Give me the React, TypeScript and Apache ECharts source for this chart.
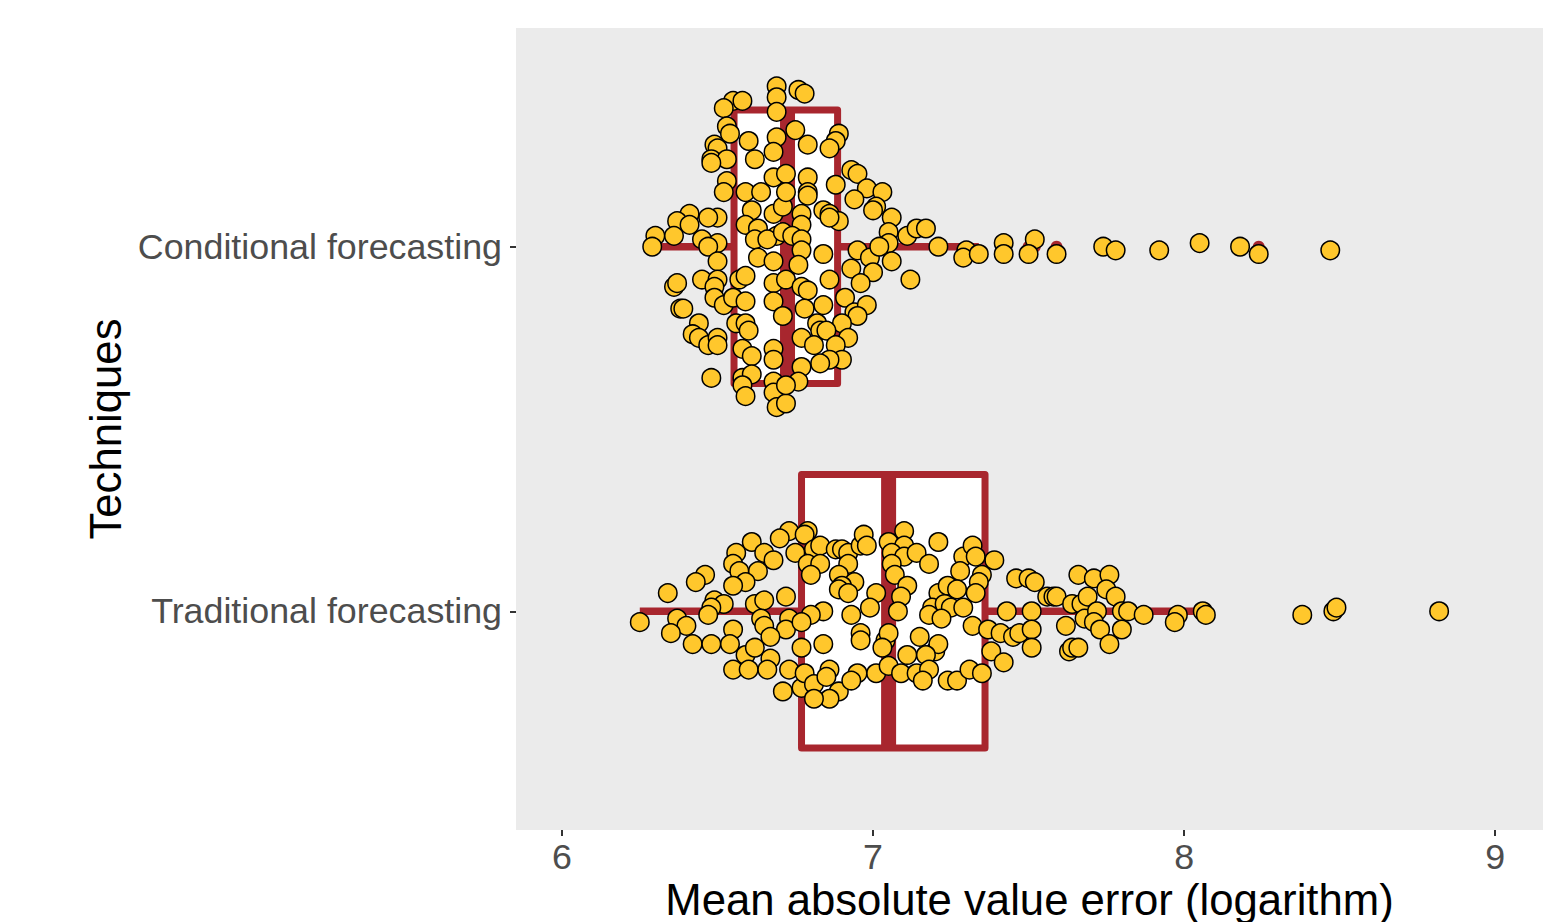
import React, { useEffect, useRef } from "react";
import * as echarts from "echarts";

const categories = ["Traditional forecasting", "Conditional forecasting"];
const xTicks = [6, 7, 8, 9];
const yTicks = [1, 2];
const xTitle = "Mean absolute value error (logarithm)";
const yTitle = "Techniques";

// [lower whisker, Q1, median, Q3, upper whisker]
const traditionalBox = [6.25, 6.77, 7.05, 7.36, 8.07];
const conditionalBox = [6.3, 6.553, 6.725, 6.886, 7.34];

// [value, vertical jitter from category centre]
const conditionalPoints = [
  [6.69, 0.44], [6.69, 0.41], [6.55, 0.4], [6.58, 0.4], [6.52, 0.38], [6.69, 0.37], [6.53, 0.33], [6.54, 0.31],
  [6.6, 0.29], [6.69, 0.3], [6.68, 0.26], [6.49, 0.28], [6.5, 0.27], [6.48, 0.24], [6.53, 0.24], [6.48, 0.23],
  [6.62, 0.24], [6.53, 0.18], [6.52, 0.15], [6.68, 0.19], [6.72, 0.2], [6.59, 0.15], [6.64, 0.15], [6.61, 0.1],
  [6.68, 0.09], [6.71, 0.11], [6.72, 0.15], [6.41, 0.09], [6.37, 0.07], [6.5, 0.08], [6.47, 0.08], [6.41, 0.06],
  [6.59, 0.06], [6.3, 0.03], [6.36, 0.03], [6.63, 0.05], [6.69, 0.03], [6.29, 0.0], [6.45, 0.02], [6.5, 0.01],
  [6.47, 0.0], [6.62, 0.02], [6.66, 0.02], [6.71, 0.04], [6.5, -0.04], [6.45, -0.09], [6.5, -0.09], [6.36, -0.11],
  [6.37, -0.1], [6.57, -0.09], [6.59, -0.08], [6.63, -0.03], [6.68, -0.04], [6.68, -0.1], [6.72, -0.09], [6.49, -0.11],
  [6.49, -0.14], [6.52, -0.16], [6.55, -0.14], [6.59, -0.15], [6.38, -0.17], [6.39, -0.17], [6.68, -0.15], [6.71, -0.19],
  [6.44, -0.21], [6.42, -0.24], [6.44, -0.25], [6.47, -0.27], [6.5, -0.25], [6.5, -0.27], [6.56, -0.21], [6.59, -0.21],
  [6.6, -0.23], [6.58, -0.28], [6.61, -0.3], [6.68, -0.28], [6.68, -0.31], [6.48, -0.36], [6.58, -0.36], [6.61, -0.35],
  [6.58, -0.38], [6.59, -0.41], [6.68, -0.37], [6.68, -0.4], [6.69, -0.44], [6.72, -0.43], [6.76, 0.43], [6.78, 0.42],
  [6.75, 0.32], [6.79, 0.28], [6.89, 0.31], [6.88, 0.29], [6.86, 0.27], [6.79, 0.19], [6.93, 0.21], [6.95, 0.2],
  [6.88, 0.17], [6.98, 0.16], [7.03, 0.15], [6.94, 0.13], [7.01, 0.11], [7.0, 0.1], [7.06, 0.08], [6.79, 0.15],
  [6.79, 0.14], [6.77, 0.09], [6.84, 0.1], [6.86, 0.09], [6.89, 0.07], [6.86, 0.08], [6.77, 0.06], [6.74, 0.03],
  [6.77, 0.02], [7.05, 0.04], [7.11, 0.03], [7.14, 0.05], [7.17, 0.05], [6.95, -0.01], [7.05, 0.01], [7.21, 0.0],
  [6.84, -0.02], [6.77, -0.01], [6.76, -0.05], [6.99, -0.03], [7.02, 0.0], [7.06, -0.04], [6.93, -0.06], [7.0, -0.07],
  [6.96, -0.1], [7.12, -0.09], [6.77, -0.11], [6.86, -0.09], [6.79, -0.12], [6.91, -0.14], [6.84, -0.16], [6.78, -0.17],
  [6.94, -0.18], [6.98, -0.16], [6.95, -0.19], [6.9, -0.21], [6.82, -0.21], [6.83, -0.23], [6.85, -0.23], [6.77, -0.25],
  [6.81, -0.27], [6.92, -0.25], [6.88, -0.27], [6.9, -0.31], [6.86, -0.31], [6.83, -0.32], [6.77, -0.33], [6.76, -0.37],
  [6.72, -0.38], [7.3, -0.01], [7.29, -0.03], [7.34, -0.02], [7.42, 0.01], [7.42, -0.02], [7.52, 0.02], [7.5, -0.02],
  [7.59, -0.02], [7.74, 0.0], [7.78, -0.01], [7.92, -0.01], [8.05, 0.01], [8.18, 0.0], [8.24, -0.02], [8.47, -0.01],
];

const traditionalPoints = [
  [6.73, 0.22], [6.7, 0.2], [6.75, 0.16], [6.56, 0.16], [6.61, 0.19], [6.65, 0.16], [6.68, 0.14], [6.55, 0.13],
  [6.57, 0.11], [6.63, 0.11], [6.59, 0.08], [6.55, 0.07], [6.46, 0.1], [6.43, 0.08], [6.34, 0.05], [6.49, 0.03],
  [6.52, 0.02], [6.48, 0.01], [6.47, -0.01], [6.62, 0.02], [6.65, 0.03], [6.72, 0.04], [6.25, -0.03], [6.37, -0.02],
  [6.4, -0.04], [6.35, -0.06], [6.55, -0.05], [6.64, -0.02], [6.65, -0.04], [6.73, -0.02], [6.72, -0.05], [6.67, -0.07],
  [6.42, -0.09], [6.48, -0.09], [6.54, -0.09], [6.59, -0.12], [6.62, -0.1], [6.67, -0.13], [6.55, -0.16], [6.6, -0.16],
  [6.66, -0.16], [6.73, -0.16], [6.71, -0.22], [6.77, -0.21], [6.77, -0.1],
  [6.79, 0.22], [6.78, 0.21], [6.81, 0.17], [6.83, 0.18], [6.79, 0.13], [6.83, 0.13], [6.8, 0.1], [6.88, 0.17],
  [6.9, 0.17], [6.92, 0.16], [6.96, 0.18], [6.97, 0.21], [6.98, 0.18], [6.92, 0.13], [6.89, 0.1], [6.94, 0.08],
  [6.9, 0.07], [6.89, 0.06], [6.92, 0.05], [7.01, 0.05], [6.99, 0.01], [6.93, -0.01], [6.84, 0.0], [6.8, -0.01],
  [6.77, -0.03],
  [7.05, 0.19], [7.1, 0.22], [7.1, 0.18], [7.06, 0.16], [7.1, 0.15], [7.14, 0.16], [7.18, 0.13], [7.21, 0.19],
  [7.06, 0.13], [7.07, 0.1], [7.11, 0.07], [7.09, 0.04], [7.08, 0.0], [7.29, 0.15], [7.32, 0.18], [7.33, 0.15],
  [7.28, 0.11], [7.35, 0.1], [7.34, 0.08], [7.21, 0.05], [7.24, 0.07], [7.27, 0.06], [7.33, 0.05], [7.19, 0.01],
  [7.23, 0.02], [7.25, 0.01], [7.29, 0.01], [7.18, -0.01], [7.22, -0.02], [7.32, -0.04], [7.37, -0.05], [7.38, -0.11],
  [6.84, -0.09], [6.96, -0.06], [6.96, -0.08], [7.04, -0.08], [7.05, -0.06], [7.03, -0.1], [7.11, -0.12], [7.15, -0.07],
  [7.2, -0.11], [7.21, -0.09], [7.17, -0.12], [6.86, -0.16], [6.78, -0.17], [6.81, -0.2], [6.85, -0.18], [6.89, -0.22],
  [6.86, -0.24], [6.81, -0.24], [6.95, -0.17], [6.93, -0.19], [7.01, -0.17], [7.05, -0.15], [7.09, -0.17], [7.14, -0.17],
  [7.18, -0.16], [7.16, -0.19], [7.24, -0.19], [7.27, -0.19], [7.31, -0.16], [7.35, -0.17], [7.39, 0.14],
  [7.46, 0.09], [7.5, 0.09], [7.52, 0.08], [7.66, 0.1], [7.71, 0.09], [7.76, 0.1], [7.75, 0.06], [7.56, 0.04],
  [7.58, 0.04], [7.59, 0.04], [7.64, 0.02], [7.67, 0.02], [7.69, 0.04], [7.78, 0.04], [7.43, 0.0], [7.51, 0.0],
  [7.68, -0.02], [7.72, 0.0], [7.8, 0.0], [7.82, 0.0], [7.87, -0.01], [7.98, -0.01], [7.97, -0.03], [8.06, 0.0],
  [8.07, -0.01], [7.41, -0.06], [7.45, -0.07], [7.47, -0.06], [7.51, -0.05], [7.62, -0.04], [7.71, -0.03], [7.73, -0.05],
  [7.8, -0.05], [7.42, -0.14], [7.51, -0.1], [7.63, -0.11], [7.64, -0.1], [7.66, -0.1], [7.76, -0.09],
  [8.38, -0.01], [8.48, 0.0], [8.49, 0.01], [8.82, 0.0],
];

const BOX_COLOR = "#A8262E";
const POINT_COLOR = "#FFC72C";
const FONT = "'Liberation Sans', Arial, Helvetica, sans-serif";

export default function App() {
  const ref = useRef<HTMLDivElement>(null);

  useEffect(() => {
    if (!ref.current) return;
    const chart = echarts.init(ref.current, null, { renderer: "svg" });

    const groups = [
      { cat: 1, pts: traditionalPoints, box: traditionalBox },
      { cat: 2, pts: conditionalPoints, box: conditionalBox },
    ];
    const boxData = groups.map((g) => [g.cat, ...g.box]);
    const scatterData = groups.flatMap((g) => g.pts.map(([x, j]) => [x, g.cat + j]));
    const outlierData = groups.flatMap((g) =>
      g.pts.filter(([x]) => x > g.box[4] || x < g.box[0]).map(([x]) => [x, g.cat])
    );

    const option: any = {
      animation: false,
      backgroundColor: "#ffffff",
      textStyle: { fontFamily: FONT },
      grid: {
        left: 516,
        top: 28,
        right: 22,
        bottom: 92,
        show: true,
        backgroundColor: "#EBEBEB",
        borderWidth: 0,
      },
      xAxis: {
        type: "value",
        min: 5.852,
        max: 9.154,
        axisLine: { show: false },
        splitLine: { show: false },
        axisTick: { show: true, customValues: xTicks, length: 6, lineStyle: { color: "#333333", width: 2 } },
        axisLabel: {
          customValues: xTicks,
          fontSize: 35.8,
          color: "#4D4D4D",
          margin: 9,
          fontFamily: FONT,
        },
      },
      yAxis: {
        type: "value",
        min: 0.4,
        max: 2.6,
        axisLine: { show: false },
        splitLine: { show: false },
        axisTick: { show: true, customValues: yTicks, length: 6, lineStyle: { color: "#333333", width: 2 } },
        axisLabel: {
          customValues: yTicks,
          fontSize: 35.8,
          color: "#4D4D4D",
          margin: 14,
          fontFamily: FONT,
          formatter: (v: number) => categories[Math.round(v) - 1] ?? "",
        },
      },
      series: [
        {
          type: "custom",
          z: 1,
          data: boxData,
          encode: { x: [1, 2, 3, 4, 5], y: 0 },
          renderItem: (params: any, api: any) => {
            const cat = api.value(0);
            const c = (v: number) => api.coord([v, cat]);
            const half = api.size([0, 0.375])[1];
            const pLo = c(api.value(1));
            const pQ1 = c(api.value(2));
            const pMed = c(api.value(3));
            const pQ3 = c(api.value(4));
            const pHi = c(api.value(5));
            const y = pQ1[1];
            return {
              type: "group",
              children: [
                {
                  type: "line",
                  shape: { x1: pLo[0], y1: y, x2: pQ1[0], y2: y },
                  style: { stroke: BOX_COLOR, lineWidth: 7.5 },
                },
                {
                  type: "line",
                  shape: { x1: pQ3[0], y1: y, x2: pHi[0], y2: y },
                  style: { stroke: BOX_COLOR, lineWidth: 7.5 },
                },
                {
                  type: "rect",
                  shape: { x: pQ1[0], y: y - half, width: pQ3[0] - pQ1[0], height: 2 * half },
                  style: { fill: "#ffffff", stroke: BOX_COLOR, lineWidth: 7, lineJoin: "round" },
                },
                {
                  type: "line",
                  shape: { x1: pMed[0], y1: y - half, x2: pMed[0], y2: y + half },
                  style: { stroke: BOX_COLOR, lineWidth: 15 },
                },
              ],
            };
          },
        },
        {
          type: "scatter",
          z: 2,
          data: outlierData,
          symbol: "circle",
          symbolSize: 12,
          itemStyle: { color: BOX_COLOR, opacity: 1 },
          silent: true,
        },
        {
          type: "scatter",
          z: 3,
          data: scatterData,
          symbol: "circle",
          symbolSize: 18.5,
          itemStyle: { color: POINT_COLOR, borderColor: "#000000", borderWidth: 1.5, opacity: 1 },
          silent: true,
        },
      ],
      graphic: [
        {
          type: "text",
          x: 1029.5,
          y: 899,
          style: {
            text: xTitle,
            fontSize: 43.7,
            fontFamily: FONT,
            fill: "#000000",
            align: "center",
            verticalAlign: "middle",
          },
        },
        {
          type: "text",
          x: 105,
          y: 429,
          rotation: Math.PI / 2,
          style: {
            text: yTitle,
            fontSize: 43.7,
            fontFamily: FONT,
            fill: "#000000",
            align: "center",
            verticalAlign: "middle",
          },
        },
      ],
    };

    chart.setOption(option);
    return () => chart.dispose();
  }, []);

  return (
    <div
      ref={ref}
      style={{ position: "absolute", left: 0, top: 0, width: 1565, height: 922 }}
    />
  );
}
